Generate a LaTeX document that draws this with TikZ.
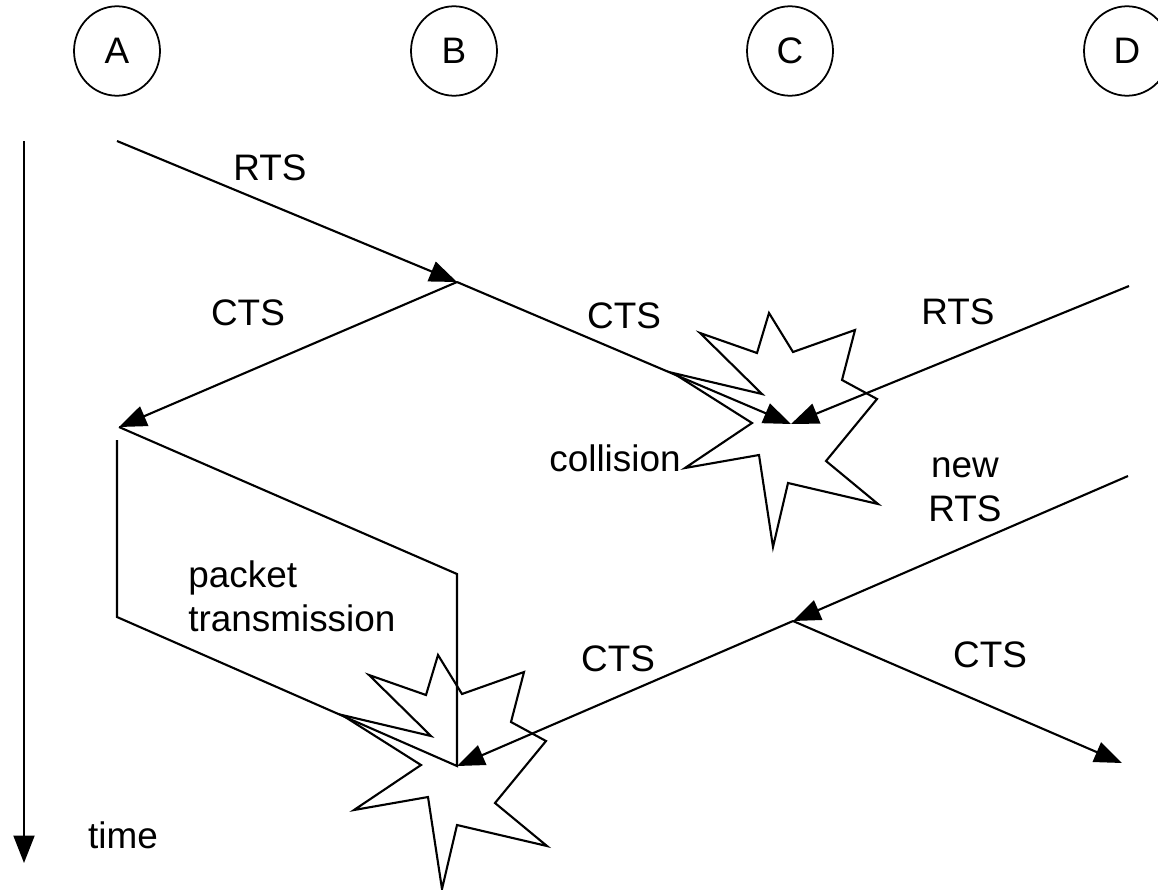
\documentclass[tikz,border=0pt]{standalone}
\usepackage{fontspec}
\setmainfont{Liberation Sans}
\usetikzlibrary{arrows.meta}
\usetikzlibrary{shapes.geometric}
\tikzstyle{station}=[ellipse, draw, line width=1pt, minimum width=1.72cm, minimum height=1.79cm, inner sep=0pt]
\tikzstyle{wire}=[line width=1.2pt]
\tikzstyle{msg}=[wire, -{Triangle[length=0.55cm, width=0.42cm]}]
\tikzstyle{lbl}=[inner sep=0pt]
\tikzset{burst/.pic={
	\draw[wire, line join=miter] (-90,-91) -- (-33,-71) -- (-21,-111) -- (3,-72) -- (65,-94) -- (52,-44)
		-- (87,-25) -- (36,37) -- (88,80) -- (-2,59) -- (-17,123) -- (-31,31) -- (-105,44)
		-- (-38,-1) -- (-117,-51) -- (-28,-30) -- cycle;
}}

\begin{document}
\begin{tikzpicture}[x=0.02cm, y=-0.02cm, font=\fontsize{21}{25}\selectfont]
	\useasboundingbox (0,0) rectangle (1158,889);
	% stations
	\draw (117,51) node[station] (A) {A};
	\draw (454,51) node[station] (B) {B};
	\draw (790,51) node[station] (C) {C};
	\draw (1127,51) node[station] (D) {D};
	% time axis
	\coordinate (t0) at (24,141);
	\coordinate (t1) at (24,863);
	\draw[msg] (t0) -- (t1);
	\draw (123,835) node[lbl] (time) {time};
	% event points
	\coordinate (a0) at (117,141);
	\coordinate (b1) at (457,282);
	\coordinate (a1) at (119,427);
	\coordinate (c1) at (791,424);
	\coordinate (d1) at (1129,286);
	\coordinate (d2) at (1128,476);
	\coordinate (c2) at (793,621);
	\coordinate (b2) at (457,766);
	\coordinate (d3) at (1122,763);
	\coordinate (p1) at (117,440);
	\coordinate (p2) at (117,617);
	\coordinate (p3) at (457,574);
	% collisions
	\pic at (790,424) {burst};
	\pic at (459,766) {burst};
	% messages
	\draw[msg] (a0) -- (b1);
	\draw[msg] (b1) -- (a1);
	\draw[msg] (b1) -- (c1);
	\draw[msg] (d1) -- (c1);
	\draw[msg] (d2) -- (c2);
	\draw[msg] (c2) -- (b2);
	\draw[msg] (c2) -- (d3);
	% packet
	\draw[wire] (a1) -- (p3) -- (b2) -- (p2) -- (p1);
	% labels
	\draw (270,168) node[lbl] (rts1) {RTS};
	\draw (248,313) node[lbl] (cts1) {CTS};
	\draw (624,316) node[lbl] (cts2) {CTS};
	\draw (958,312) node[lbl] (rts2) {RTS};
	\draw (615,458) node[lbl] (coll) {collision};
	\draw (965,490) node[lbl, align=center] (rts3) {new\\RTS};
	\draw (188,596) node[lbl, align=left, anchor=west] (pkt) {packet\\transmission};
	\draw (618,659) node[lbl] (cts3) {CTS};
	\draw (990,655) node[lbl] (cts4) {CTS};
\end{tikzpicture}
\end{document}
